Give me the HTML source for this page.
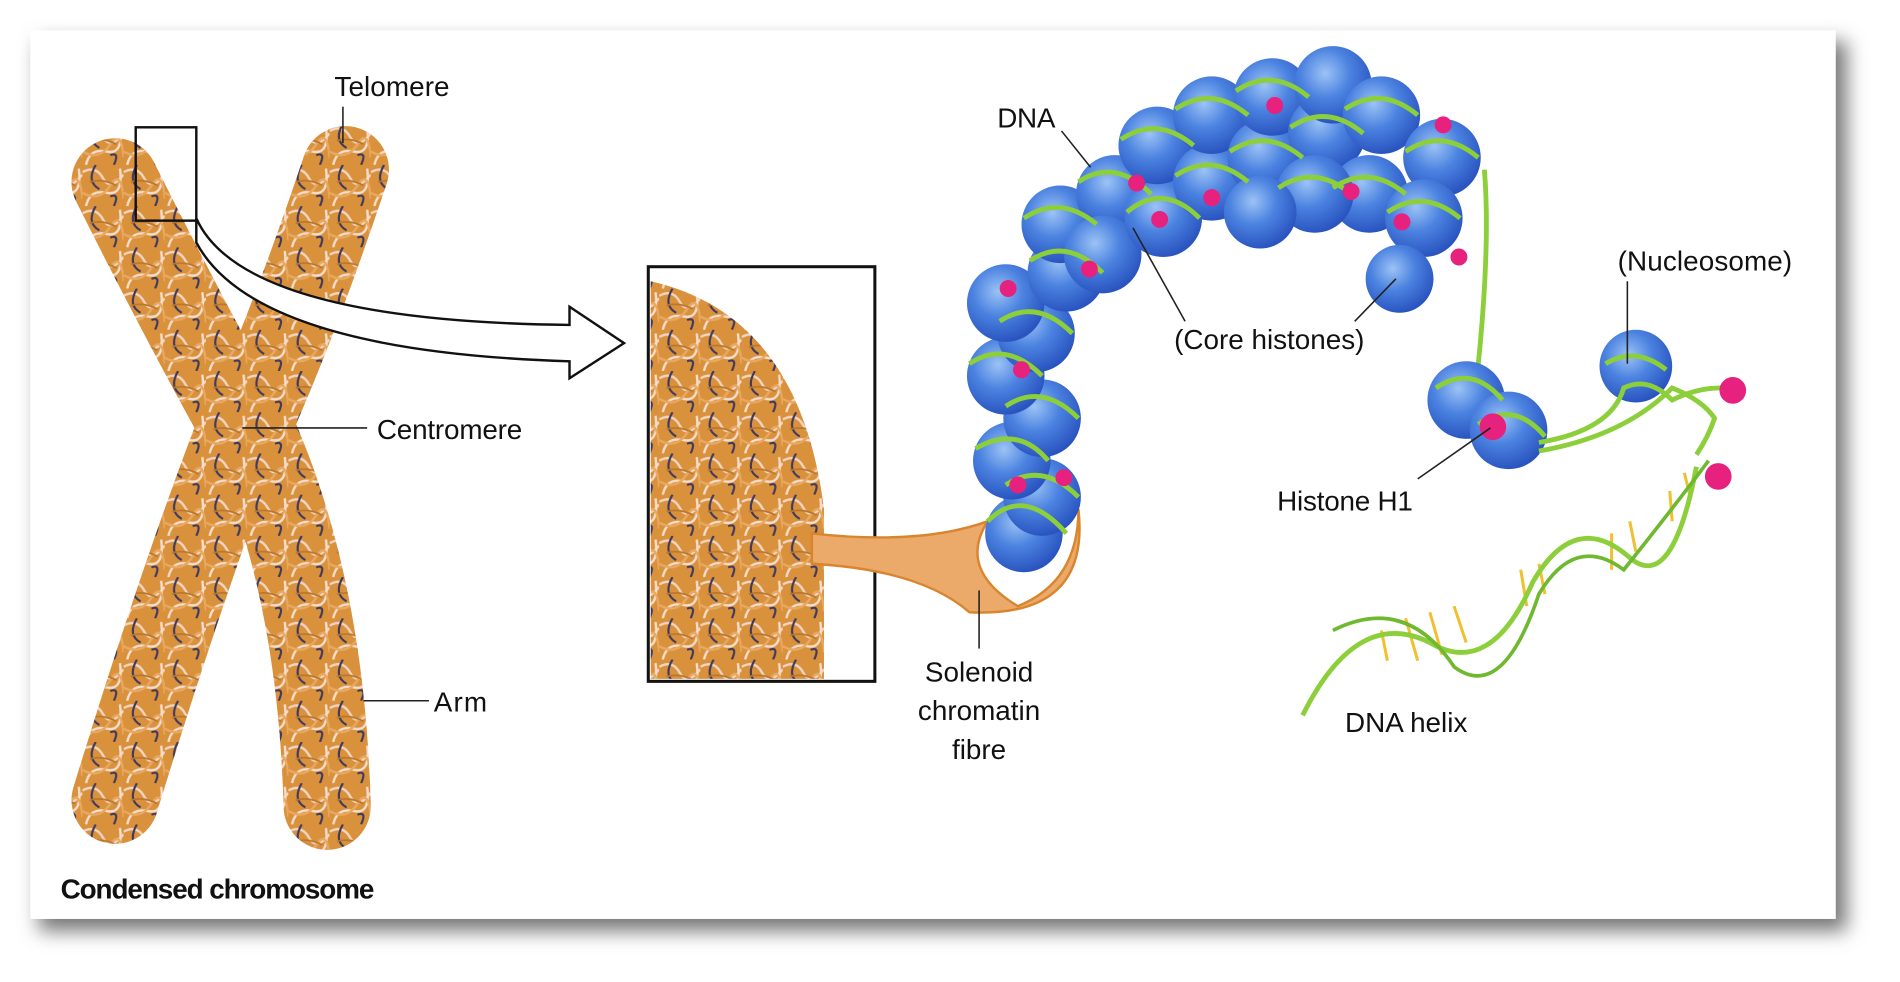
<!DOCTYPE html>
<html><head><meta charset="utf-8">
<style>
html,body{margin:0;padding:0;background:#fff;}
svg{display:block;}
text{font-family:"Liberation Sans Narrow","Liberation Sans",sans-serif;fill:#111;}
</style></head>
<body>
<svg width="1900" height="982" viewBox="0 0 1568 810" preserveAspectRatio="none" xmlns="http://www.w3.org/2000/svg">
<defs>
<filter id="sh" x="-5%" y="-5%" width="112%" height="115%"><feGaussianBlur stdDeviation="8"/></filter>
<radialGradient id="nb" cx="40%" cy="35%" r="65%">
<stop offset="0" stop-color="#9cc3f5"/><stop offset="0.5" stop-color="#4b82e0"/><stop offset="1" stop-color="#2a55c0"/>
</radialGradient>
<pattern id="tex" width="34" height="34" patternUnits="userSpaceOnUse">
<rect width="34" height="34" fill="#d9913c"/>
<path d="M0 6 Q11 0 17 11 T34 8" stroke="#f2d4c0" stroke-width="2" fill="none"/>
<path d="M3 34 Q6 20 20 23 T31 3" stroke="#f5dccb" stroke-width="2" fill="none"/>
<path d="M0 23 Q14 31 23 17 T34 28" stroke="#e8a860" stroke-width="2" fill="none"/>
<path d="M11 0 Q3 14 14 20" stroke="#3f3a5e" stroke-width="1.8" fill="none"/>
<path d="M26 34 Q31 23 23 26" stroke="#3f3a5e" stroke-width="1.8" fill="none"/>
<path d="M6 14 Q17 11 28 17" stroke="#b9772e" stroke-width="1.5" fill="none"/>
</pattern>
</defs>
<rect x="32" y="34" width="1492" height="734" fill="#777" filter="url(#sh)"/>
<rect x="25" y="25" width="1490" height="733" fill="#fff"/>

<g stroke="url(#tex)" stroke-linecap="round" fill="none">
<path d="M95 150 Q150 260 200 350 Q150 480 95 660" stroke-width="72"/>
<path d="M285 140 Q245 260 205 350 Q265 480 270 665" stroke-width="72"/>
</g>
<rect x="112" y="105" width="50" height="77" fill="none" stroke="#111" stroke-width="2"/>
<path d="M162 180 Q200 265 470 268 L470 253 L515 283 L470 312 L470 298 Q210 290 162 200 Z" fill="#fff" stroke="#111" stroke-width="2"/>

<rect x="535" y="220" width="187" height="342" fill="#fff" stroke="#111" stroke-width="2.5"/>
<path d="M537 232 Q660 260 680 420 L680 560 L537 560 Z" fill="url(#tex)"/>
<path d="M670 440 Q760 450 815 430 Q790 470 840 500 Q890 480 890 420 Q900 510 800 505 Q760 470 670 465 Z" fill="#eba96a" stroke="#d9852e" stroke-width="2"/>

<g>
<g fill="url(#nb)">
<circle cx="845" cy="440" r="32"/><circle cx="860" cy="410" r="32"/><circle cx="835" cy="380" r="32"/><circle cx="860" cy="345" r="32"/>
<circle cx="830" cy="310" r="32"/><circle cx="855" cy="275" r="32"/><circle cx="830" cy="250" r="32"/><circle cx="880" cy="225" r="32"/>
<circle cx="875" cy="185" r="32"/><circle cx="920" cy="160" r="32"/><circle cx="910" cy="210" r="32"/><circle cx="960" cy="180" r="32"/>
<circle cx="955" cy="120" r="32"/><circle cx="1000" cy="150" r="32"/><circle cx="1000" cy="95" r="32"/><circle cx="1045" cy="130" r="32"/>
<circle cx="1050" cy="80" r="32"/><circle cx="1095" cy="110" r="32"/><circle cx="1100" cy="70" r="32"/><circle cx="1140" cy="95" r="32"/>
<circle cx="1130" cy="160" r="32"/><circle cx="1085" cy="160" r="32"/><circle cx="1190" cy="130" r="32"/><circle cx="1175" cy="180" r="32"/>
<circle cx="1155" cy="230" r="28"/><circle cx="1040" cy="175" r="30"/>
</g>
<g stroke="#8ccf3a" stroke-width="4" fill="none">
<path d="M815 430 Q845 400 880 440"/><path d="M830 400 Q860 380 890 410"/><path d="M805 370 Q840 350 865 380"/>
<path d="M830 335 Q860 315 890 345"/><path d="M800 300 Q830 280 860 310"/><path d="M825 265 Q855 245 885 275"/>
<path d="M850 215 Q880 195 910 225"/><path d="M845 180 Q875 160 905 185"/><path d="M890 150 Q920 130 950 160"/>
<path d="M930 175 Q960 150 990 180"/><path d="M925 115 Q955 95 985 120"/><path d="M970 145 Q1000 125 1030 150"/>
<path d="M970 90 Q1000 70 1030 95"/><path d="M1015 125 Q1045 105 1075 130"/><path d="M1020 75 Q1050 55 1080 80"/>
<path d="M1065 105 Q1095 85 1125 110"/><path d="M1110 90 Q1140 70 1170 95"/><path d="M1160 125 Q1190 105 1220 130"/>
<path d="M1100 155 Q1130 135 1160 160"/><path d="M1145 175 Q1175 155 1205 180"/><path d="M1055 155 Q1085 135 1115 160"/>
<path d="M1225 140 Q1230 200 1220 300"/>
</g>
<g fill="#e6217e">
<circle cx="1052" cy="87" r="7"/><circle cx="1191" cy="103" r="7"/><circle cx="938" cy="151" r="7"/><circle cx="1000" cy="163" r="7"/>
<circle cx="1115" cy="158" r="7"/><circle cx="957" cy="181" r="7"/><circle cx="1157" cy="183" r="7"/><circle cx="1204" cy="212" r="7"/>
<circle cx="899" cy="222" r="7"/><circle cx="832" cy="238" r="7"/><circle cx="843" cy="305" r="7"/><circle cx="840" cy="400" r="7"/><circle cx="878" cy="394" r="7"/>
</g>
</g>

<circle cx="1210" cy="330" r="32" fill="url(#nb)"/>
<circle cx="1245" cy="355" r="32" fill="url(#nb)"/>
<circle cx="1350" cy="302" r="30" fill="url(#nb)"/>
<g stroke="#8ccf3a" stroke-width="4" fill="none">
<path d="M1185 320 Q1215 300 1240 330"/><path d="M1220 350 Q1250 330 1275 360"/>
<path d="M1270 365 Q1330 355 1340 320 Q1360 310 1380 330 Q1400 320 1420 320"/>
<path d="M1270 372 Q1340 360 1380 320 Q1405 330 1415 345 Q1410 360 1400 375"/>
<path d="M1325 300 Q1350 285 1375 305"/>
</g>
<circle cx="1232" cy="352" r="11" fill="#e6217e"/>
<circle cx="1430" cy="322" r="11" fill="#e6217e"/>
<circle cx="1418" cy="393" r="11" fill="#e6217e"/>
<g fill="none">
<g stroke="#f0c030" stroke-width="2.5">
<path d="M1140 520 L1145 545 M1160 510 L1170 545 M1180 505 L1190 540 M1200 500 L1210 530 M1260 500 L1255 470 M1275 490 L1270 465 M1330 470 L1330 440 M1350 455 L1345 430 M1380 430 L1378 405 M1395 410 L1390 390"/>
</g>
<path d="M1075 590 Q1120 500 1180 530 Q1230 560 1265 480 Q1300 420 1345 460 Q1380 490 1400 385" stroke="#8ccf3a" stroke-width="4"/>
<path d="M1100 520 Q1160 490 1200 550 Q1240 580 1270 490 Q1300 440 1340 470 Q1380 420 1410 380" stroke="#6fb830" stroke-width="3"/>
</g>

<g stroke="#222" stroke-width="1.3" fill="none">
<line x1="283" y1="88" x2="283" y2="118"/>
<line x1="200" y1="353" x2="303" y2="353"/>
<line x1="300" y1="578" x2="354" y2="578"/>
<line x1="876" y1="108" x2="900" y2="138"/>
<line x1="935" y1="188" x2="978" y2="265"/>
<line x1="1118" y1="265" x2="1152" y2="230"/>
<line x1="1343" y1="232" x2="1343" y2="300"/>
<line x1="1170" y1="395" x2="1230" y2="353"/>
<line x1="808" y1="487" x2="808" y2="535"/>
</g>

<g font-size="23">
<text x="276" y="79" textLength="95">Telomere</text>
<text x="311" y="362" textLength="120">Centromere</text>
<text x="358" y="587" textLength="44">Arm</text>
<text x="823" y="105" textLength="48">DNA</text>
<text x="969" y="288" textLength="157">(Core histones)</text>
<text x="1335" y="223" textLength="144">(Nucleosome)</text>
<text x="1054" y="421" textLength="112">Histone H1</text>
<text x="1110" y="604" textLength="101">DNA helix</text>
<text x="808" y="562" text-anchor="middle">Solenoid</text>
<text x="808" y="594" text-anchor="middle">chromatin</text>
<text x="808" y="626" text-anchor="middle">fibre</text>
<text x="50" y="741" font-weight="bold" textLength="259">Condensed chromosome</text>
</g>
</svg>
</body></html>
